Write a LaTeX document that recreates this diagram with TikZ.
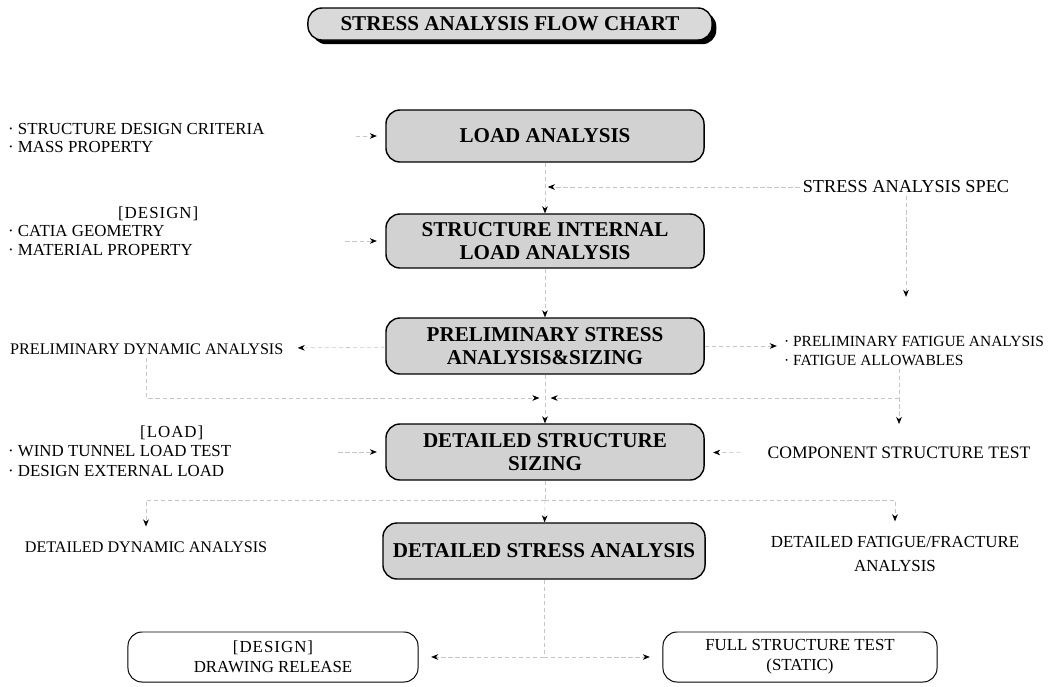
\documentclass[tikz,border=0pt]{standalone}
\usepackage{fontspec}
\setmainfont{Liberation Serif}
\usetikzlibrary{arrows.meta,shadows}

\tikzset{
  box/.style={draw, line width=1pt, rounded corners=10pt, fill=gray!35, align=center,
    font=\bfseries\fontsize{15}{16}\selectfont, minimum width=7.95cm, minimum height=1.35cm},
  outbox/.style={draw, line width=0.7pt, rounded corners=10pt, align=center,
    font=\fontsize{12}{14}\selectfont, minimum height=1.25cm},
  txt/.style={align=left, inner sep=2pt, font=\fontsize{12}{13}\selectfont},
  link/.style={draw=gray!45, line width=0.4pt, dash pattern=on 3pt off 2pt},
  flow/.style={link, -{Stealth[black,length=5pt,width=4pt]}}
}
\newcommand{\spaced}[1]{{\addfontfeature{LetterSpace=6}#1}}

\begin{document}
\begin{tikzpicture}[x=0.025cm, y=-0.025cm]
\useasboundingbox (0,0) rectangle (1053,686);

% title
\node[box, fill=gray!30, minimum width=10.1cm, minimum height=0.8cm,
  drop shadow={shadow xshift=3pt, shadow yshift=-3pt, fill=black, opacity=1}]
  (title) at (510,24) {STRESS ANALYSIS FLOW CHART};

% main column
\node[box, minimum height=1.3cm] (load) at (545,136) {LOAD ANALYSIS};
\node[box] (internal) at (545,241) {STRUCTURE INTERNAL\\LOAD ANALYSIS};
\node[box, minimum height=1.4cm] (prelim) at (545,346) {PRELIMINARY STRESS\\ANALYSIS\&SIZING};
\node[box, minimum height=1.4cm] (sizing) at (545,452) {DETAILED STRUCTURE\\SIZING};
\node[box, minimum width=8.05cm, minimum height=1.4cm] (stress) at (544,551) {DETAILED STRESS ANALYSIS};

\node[outbox, minimum width=7.25cm] (drawing) at (273,657) {\spaced{[DESIGN]}\\DRAWING RELEASE};
\node[outbox, minimum width=6.85cm] (full) at (800,657) {FULL STRUCTURE TEST\\(STATIC)};

% side texts
\node[txt, anchor=west] (crit) at (5,138) {· STRUCTURE DESIGN CRITERIA\\· MASS PROPERTY};
\node[txt, anchor=west] (geom) at (5,231) {\hspace*{2.75cm}\spaced{[DESIGN]}\\· CATIA GEOMETRY\\· MATERIAL PROPERTY};
\node[txt, anchor=west, font=\fontsize{11.5}{13}\selectfont] (pdyn) at (7,349) {PRELIMINARY DYNAMIC ANALYSIS};
\node[txt, anchor=west, font=\fontsize{12}{14}\selectfont] (wind) at (5,451) {\hspace*{3.3cm}\spaced{[LOAD]}\\· WIND TUNNEL LOAD TEST\\· DESIGN EXTERNAL LOAD};
\node[txt, font=\fontsize{11.5}{13}\selectfont] (ddyn) at (146,547) {DETAILED DYNAMIC ANALYSIS};
\node[txt, font=\fontsize{13}{14}\selectfont] (spec) at (906,187) {STRESS ANALYSIS SPEC};
\node[txt, anchor=west, font=\fontsize{11}{14}\selectfont] (pfat) at (781,351) {· PRELIMINARY FATIGUE ANALYSIS\\· FATIGUE ALLOWABLES};
\node[txt, font=\fontsize{12.5}{14}\selectfont] (cst) at (899,453) {COMPONENT STRUCTURE TEST};
\node[txt, align=center, font=\fontsize{12}{17}\selectfont] (dfat) at (895,554) {DETAILED FATIGUE/FRACTURE\\ANALYSIS};

\coordinate (mid1) at (545,398);
\coordinate (mid2) at (545,500);
\coordinate (mid3) at (stress.south |- drawing.east);

% connectors
\draw[flow, shorten <=2.2cm, shorten >=6pt] (crit.east |- load) -- (load);
\draw[flow, shorten <=3.6cm, shorten >=6pt] (geom.east |- internal) -- (internal);
\draw[flow] (load) -- (internal);
\draw[flow, shorten >=2pt] (spec.west) -- (spec.west -| load.south);
\draw[flow, shorten >=0.9cm] (spec) -- (spec |- pfat.north);
\draw[flow] (internal) -- (prelim);
\draw[flow, shorten >=8pt] (prelim) -- (pdyn);
\draw[flow, shorten >=3pt] (prelim) -- (pfat.west |- prelim);
\draw[flow, shorten >=4pt] (pdyn) |- (mid1);
\draw[flow, shorten >=0.5cm] (cst |- pfat.south) -- (cst);
\draw[flow, shorten >=4pt] (cst |- mid1) -- (mid1);
\draw[flow] (prelim) -- (sizing);
\draw[flow, shorten <=2.6cm, shorten >=6pt] (wind.east |- sizing) -- (sizing);
\draw[flow, shorten <=0.6cm, shorten >=6pt] (cst) -- (sizing);
\draw[link] (sizing) -- (mid2);
\draw[flow] (mid2) -- (stress);
\draw[flow, shorten >=0.3cm] (mid2) -| (ddyn);
\draw[flow, shorten >=0.3cm] (mid2) -| (dfat);
\draw[link] (stress) -- (mid3);
\draw[flow, shorten >=9pt] (mid3) -- (drawing);
\draw[flow, shorten >=9pt] (mid3) -- (full);
\end{tikzpicture}
\end{document}
